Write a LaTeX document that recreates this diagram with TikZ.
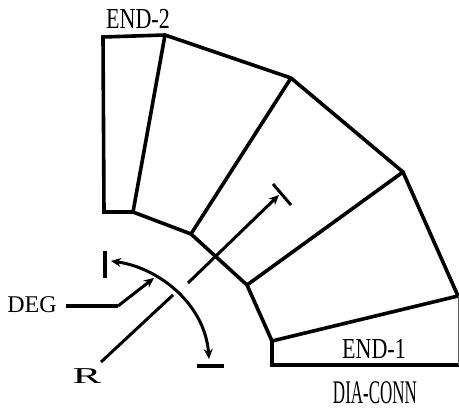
\documentclass[tikz,border=0pt]{standalone}
\usepackage{fontspec}
\setmainfont{Liberation Serif}
\usetikzlibrary{arrows.meta}

\begin{document}
\begin{tikzpicture}[x=1pt,y=-1pt,>={Stealth[length=10pt,width=9pt]},line join=miter,
    wall/.style={line width=3.6pt},
    dim line/.style={line width=3pt},
    tick line/.style={line width=4pt},
    label/.style={inner sep=0pt,font=\fontsize{#1}{#1}\selectfont}]

    \useasboundingbox (0,0) rectangle (459,410);

    % outer and inner corners of the segments
    \foreach \name/\x/\y in {o0/458/296,o1/403/172,o2/291/78,o3/165/35,o4/103/37,
                             i0/272/341,i1/247/285,i2/191/234,i3/133/212,i4/104/212,
                             f0/272/365,f1/459/365}{
        \coordinate (\name) at (\x,\y);
    }

    \draw[wall] (f1) -- (f0) -- (i0) -- (i1) -- (i2) -- (i3) -- (i4) -- (o4) -- (o3) -- (o2) -- (o1) -- (o0);

    \foreach \curr in {0,...,3}{
        \draw[wall] (i\curr) -- (o\curr);
    }

    % right edge, cut by the page
    \draw[line width=1pt,black!60] (o0) -- (o0 |- f1);

    % radius and angle marks
    \coordinate (tickA) at (105,251);
    \coordinate (tickB) at (105,278);
    \coordinate (tickC) at (197,366);
    \coordinate (tickD) at (224,366);
    \coordinate (tickE) at (273,184);
    \coordinate (tickF) at (291,205);
    \coordinate (arcA) at (111,261);
    \coordinate (arcB) at (209,359);
    \coordinate (radA) at (101,362);
    \coordinate (radB) at (173,295);
    \coordinate (radC) at (188,283);
    \coordinate (radD) at (279,195);
    \coordinate (degA) at (66,306);
    \coordinate (degB) at (118,306);
    \coordinate (degC) at (154,278);

    \draw[tick line] (tickA) -- (tickB);
    \draw[tick line] (tickC) -- (tickD);
    \draw[dim line] (tickE) -- (tickF);
    \draw[dim line,<->] (arcA) .. controls (160,268) and (205,305) .. (arcB);
    \draw[dim line] (radA) -- (radB);
    \draw[dim line,->] (radC) -- (radD);
    \draw[tick line] (degA) -- (degB);
    \draw[dim line,->] (degB) -- (degC);

    \node[label=29,xscale=0.76] (end2) at (138,19) {END-2};
    \node[label=29,xscale=0.76] (end1) at (374,349) {END-1};
    \node[label=33,xscale=0.515] (conn) at (375,393) {DIA-CONN};
    \node[label=24] (deg) at (32,305) {DEG};
    \node[label=22.7,xscale=1.9] (rad) at (87,376) {R};

\end{tikzpicture}
\end{document}
